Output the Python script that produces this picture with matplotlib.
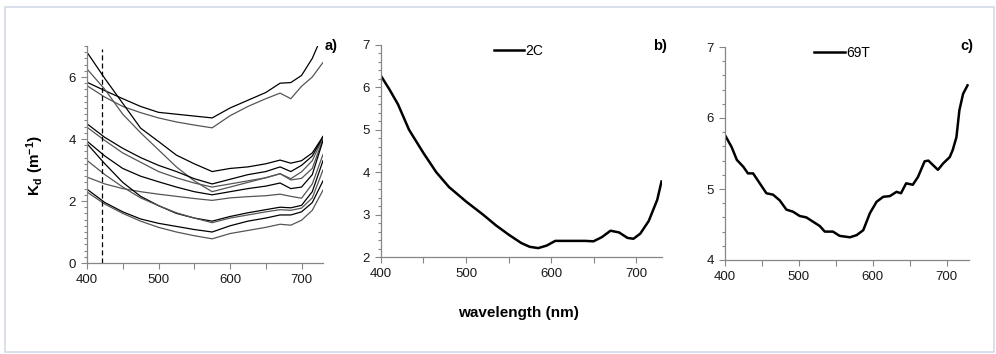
import numpy as np
import matplotlib.pyplot as plt
from matplotlib.patches import Rectangle
from matplotlib.ticker import MultipleLocator

plt.rcParams['font.family'] = ['Liberation Sans', 'DejaVu Sans']
plt.rcParams['mathtext.fontset'] = 'custom'
plt.rcParams['mathtext.rm'] = 'Liberation Sans'
plt.rcParams['mathtext.bf'] = 'Liberation Sans:bold'

# panel a: Kd spectra of all stations
wl_a = [400, 425, 450, 475, 500, 525, 550, 575, 600, 625, 650, 670, 685, 700, 715, 730]
kd_a = [
    [5.83, 5.56, 5.30, 5.05, 4.86, 4.80, 4.74, 4.68, 5.00, 5.25, 5.50, 5.80, 5.82, 6.05, 6.60, 7.40],
    [5.72, 5.35, 5.05, 4.85, 4.68, 4.55, 4.45, 4.36, 4.75, 5.05, 5.30, 5.48, 5.30, 5.70, 6.00, 6.47],
    [6.80, 5.95, 5.15, 4.35, 3.92, 3.48, 3.20, 2.95, 3.05, 3.10, 3.20, 3.32, 3.22, 3.30, 3.55, 4.08],
    [6.26, 5.60, 4.80, 4.20, 3.65, 3.10, 2.65, 2.30, 2.45, 2.60, 2.75, 2.88, 2.72, 2.94, 3.30, 4.05],
    [4.49, 4.05, 3.70, 3.40, 3.15, 2.95, 2.72, 2.55, 2.70, 2.85, 2.95, 3.10, 2.95, 3.15, 3.45, 4.08],
    [4.38, 3.95, 3.55, 3.25, 2.95, 2.75, 2.58, 2.45, 2.55, 2.65, 2.75, 2.88, 2.68, 2.73, 3.05, 4.00],
    [3.93, 3.45, 3.05, 2.80, 2.62, 2.45, 2.30, 2.20, 2.30, 2.40, 2.48, 2.58, 2.40, 2.45, 2.85, 3.95],
    [2.77, 2.55, 2.40, 2.30, 2.22, 2.15, 2.08, 2.02, 2.10, 2.14, 2.17, 2.22, 2.15, 2.09, 2.55, 3.50],
    [3.85, 3.20, 2.60, 2.15, 1.85, 1.60, 1.45, 1.35, 1.50, 1.62, 1.72, 1.80, 1.78, 1.86, 2.30, 3.30],
    [3.31, 2.85, 2.45, 2.10, 1.85, 1.62, 1.45, 1.30, 1.45, 1.55, 1.65, 1.72, 1.70, 1.77, 2.10, 3.00],
    [2.38, 1.95, 1.65, 1.42, 1.28, 1.18, 1.08, 1.00, 1.20, 1.35, 1.45, 1.55, 1.55, 1.65, 1.95, 2.65],
    [2.29, 1.90, 1.60, 1.35, 1.15, 1.00, 0.88, 0.78, 0.95, 1.05, 1.15, 1.25, 1.22, 1.38, 1.70, 2.35],
]
dash_wl = 421

# panel b: station 2C
wl_b = [400, 410, 420, 433, 450, 465, 480, 500, 520, 535, 550, 565, 575, 585, 595, 605,
        620, 640, 650, 660, 670, 680, 690, 697, 705, 715, 725, 730]
kd_b = [6.27, 5.95, 5.60, 5.00, 4.45, 4.00, 3.65, 3.31, 3.00, 2.75, 2.53, 2.33, 2.24, 2.21, 2.27, 2.38,
        2.38, 2.38, 2.37, 2.47, 2.62, 2.58, 2.45, 2.43, 2.55, 2.85, 3.35, 3.78]

# panel c: station 69T
wl_c = [401, 409, 416, 425, 431, 438, 447, 456, 465, 474, 483, 492, 501, 510, 519, 528,
        535, 546, 555, 569, 578, 587, 596, 605, 614, 623, 632, 638, 645, 654, 661, 670,
        675, 681, 688, 695, 704, 708, 713, 717, 722, 728]
kd_c = [5.74, 5.59, 5.41, 5.31, 5.22, 5.22, 5.08, 4.94, 4.92, 4.84, 4.71, 4.68, 4.62, 4.60, 4.54, 4.48,
        4.40, 4.40, 4.34, 4.32, 4.35, 4.42, 4.66, 4.82, 4.89, 4.90, 4.96, 4.94, 5.08, 5.06, 5.17, 5.39,
        5.40, 5.34, 5.27, 5.36, 5.45, 5.55, 5.73, 6.11, 6.34, 6.46]

W, H = 996, 354
fig = plt.figure(figsize=(W / 100, H / 100), dpi=100)
fig.patches.append(Rectangle((5 / W, 2 / H), 989 / W, 345 / H, transform=fig.transFigure,
                             fill=False, edgecolor='#d3dae8', lw=1.2))

def box(l, r, t, b):
    return [l / W, 1 - b / H, (r - l) / W, (b - t) / H]

def style(ax, ymin, ymax, xmax=730):
    ax.set_xlim(400, xmax)
    ax.set_ylim(ymin, ymax)
    for s in ['top', 'right']:
        ax.spines[s].set_visible(False)
    for s in ['left', 'bottom']:
        ax.spines[s].set_color('#868686')
        ax.spines[s].set_linewidth(0.9)
    ax.xaxis.set_major_locator(MultipleLocator(100))
    ax.xaxis.set_minor_locator(MultipleLocator(50))
    ax.yaxis.set_minor_locator(MultipleLocator(0.2))
    ax.tick_params(which='both', direction='out', color='#868686', labelsize=9.5,
                   labelcolor='#1a1a1a', width=0.8)
    ax.tick_params(which='major', length=4, pad=4)
    ax.tick_params(axis='x', which='minor', length=4)
    ax.tick_params(axis='y', which='minor', length=2.5)

# a)
ax1 = fig.add_axes(box(87, 323, 46, 263))
style(ax1, 0, 7)
ax1.yaxis.set_major_locator(MultipleLocator(2))
for i, kd in enumerate(kd_a):
    ax1.plot(wl_a, kd, color='black' if i % 2 == 0 else '#555555', lw=0.9)
ax1.plot([dash_wl, dash_wl], [0, 6.9], color='black', lw=0.9, ls=(0, (4, 2.5)))
ax1.set_ylabel(r'$\mathbf{K_d\ (m^{-1})}$', fontsize=11)
ax1.yaxis.set_label_coords(-0.172, 0.45)
fig.text(325 / W, 1 - 46 / H, 'a)', fontsize=10.5, fontweight='bold', va='center')

# b)
ax2 = fig.add_axes(box(381, 661.5, 45, 257))
style(ax2, 2, 7)
ax2.yaxis.set_major_locator(MultipleLocator(1))
ax2.plot(wl_b, kd_b, color='black', lw=1.8, label='2C')
ax2.legend(loc='upper center', bbox_to_anchor=(0.49, 1.065), frameon=False, fontsize=10,
           handlelength=2.2, handletextpad=0.1)
fig.text(653 / W, 1 - 46 / H, 'b)', fontsize=10.5, fontweight='bold', va='center')
fig.text(518 / W, 1 - 313 / H, 'wavelength (nm)', fontsize=11, fontweight='bold',
         ha='center', va='center')

# c)
ax3 = fig.add_axes(box(725, 969, 47, 260))
style(ax3, 4, 7)
ax3.yaxis.set_major_locator(MultipleLocator(1))
ax3.plot(wl_c, kd_c, color='black', lw=1.8, label='69T')
ax3.legend(loc='upper center', bbox_to_anchor=(0.48, 1.065), frameon=False, fontsize=10,
           handlelength=2.2, handletextpad=0.1)
fig.text(960 / W, 1 - 46 / H, 'c)', fontsize=10.5, fontweight='bold', va='center')

fig.savefig('out.png', dpi=100)
